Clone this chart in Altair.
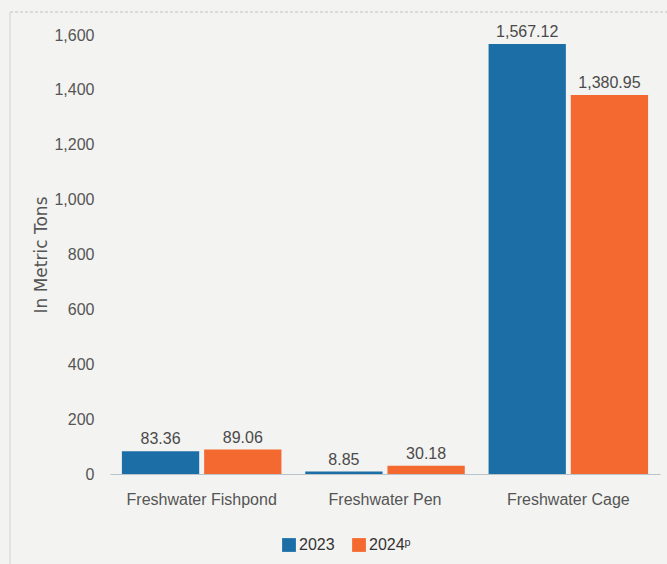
import altair as alt
import pandas as pd

# Aquaculture production by culture environment, in metric tons
categories = ["Freshwater Fishpond", "Freshwater Pen", "Freshwater Cage"]
years = ["2023", "2024ᵖ"]
values_2023 = [83.36, 8.85, 1567.12]
values_2024 = [89.06, 30.18, 1380.95]
y_ticks = [0, 200, 400, 600, 800, 1000, 1200, 1400, 1600]

rows = []
for cat, a, b in zip(categories, values_2023, values_2024):
    rows.append({"category": cat, "year": years[0], "value": a})
    rows.append({"category": cat, "year": years[1], "value": b})
df = pd.DataFrame(rows)

FONT = "Liberation Sans, Arial"
colors = ["#1c6ea6", "#f4692f"]

x_enc = alt.X(
    "category:N",
    sort=categories,
    title=None,
    scale=alt.Scale(paddingInner=0.13, paddingOuter=0.065),
    axis=alt.Axis(
        labelAngle=0,
        labelFont=FONT,
        labelFontSize=16,
        labelColor="#555555",
        labelPadding=17,
        ticks=False,
        domainColor="#b9c3ca",
        domainWidth=1,
    ),
)
xoff_enc = alt.XOffset("year:N", sort=years, scale=alt.Scale(paddingInner=0.06))
y_enc = alt.Y(
    "value:Q",
    scale=alt.Scale(domain=[0, 1600], nice=False),
    title="In Metric Tons",
    axis=alt.Axis(
        values=y_ticks,
        format=",.0f",
        grid=False,
        domain=False,
        ticks=False,
        labelFont=FONT,
        labelFontSize=16,
        labelColor="#555555",
        labelPadding=16,
        titleFont="DejaVu Sans",
        titleFontSize=17,
        titleFontWeight="normal",
        titleColor="#555555",
        titlePadding=3,
    ),
)

bars = alt.Chart(df).mark_bar().encode(
    x=x_enc,
    xOffset=xoff_enc,
    y=y_enc,
    color=alt.Color(
        "year:N",
        sort=years,
        scale=alt.Scale(domain=years, range=colors),
        legend=alt.Legend(
            title=None,
            orient="none",
            legendX=171,
            legendY=502,
            direction="horizontal",
            symbolType="square",
            symbolSize=190,
            symbolStrokeWidth=0,
            symbolOpacity=1,
            labelFont=FONT,
            labelFontSize=16,
            labelColor="#333333",
            labelOffset=2,
            columnPadding=16,
        ),
    ),
)

labels = alt.Chart(df).mark_text(
    baseline="alphabetic",
    dy=-7,
    font=FONT,
    fontSize=16,
    color="#4a4a4a",
).encode(
    x=alt.X("category:N", sort=categories),
    xOffset=alt.XOffset("year:N", sort=years),
    y=alt.Y("value:Q"),
    text=alt.Text("value:Q", format=",.2f"),
)

# faint frame around the panel
frame_top = alt.Chart(df).mark_rule(color="#dadada", strokeDash=[3, 2]).encode(
    x=alt.value(-100), x2=alt.value(557), y=alt.value(-23)
)
frame_left = alt.Chart(df).mark_rule(color="#e2e2e2").encode(
    x=alt.value(-100), y=alt.value(-23), y2=alt.value(529)
)

chart = (
    alt.layer(frame_top, frame_left, bars, labels)
    .properties(
        width=550,
        height=439,
        autosize=alt.AutoSizeParams(type="none"),
        padding={"left": 110, "top": 35, "right": 7, "bottom": 90},
        background="#f3f3f1",
    )
    .configure_view(stroke=None)
)

chart.save("out.html", embed_options={"renderer": "svg", "actions": False})
